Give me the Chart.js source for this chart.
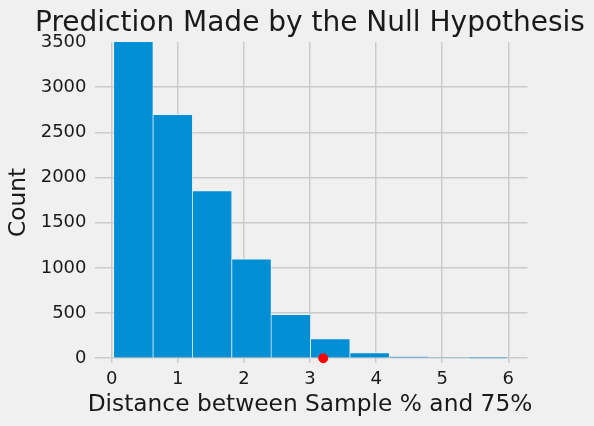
<!DOCTYPE html>
<html>
<head>
<meta charset="utf-8">
<script src="https://cdn.jsdelivr.net/npm/chart.js"></script>
<style>
  html, body { margin: 0; padding: 0; background: #f0f0f0; }
  canvas { display: block; }
</style>
</head>
<body>
<canvas id="histChart" width="594" height="426"></canvas>
<script>
// histogram bins (centres) and counts
const binCenters = [0.328, 0.924, 1.519, 2.115, 2.71, 3.306, 3.902, 4.497, 5.093, 5.688];
const counts = [3560, 2700, 1855, 1100, 485, 218, 62, 18, 4, 1];
const observedX = [3.2];
const observedY = [0];
const xTicks = [0, 1, 2, 3, 4, 5, 6];
const yTicks = [0, 500, 1000, 1500, 2000, 2500, 3000, 3500];

const font = 'DejaVu Sans';

function renderChart() {
    const ctx = document.getElementById('histChart').getContext('2d');
    new Chart(ctx, {
        type: 'bar',
        data: {
            datasets: [{
                type: 'bar',
                data: binCenters.map((x, i) => ({ x: x, y: counts[i] })),
                backgroundColor: '#008fd5',
                borderColor: '#f0f0f0',
                borderWidth: { top: 1, left: 0.7, right: 0.7, bottom: 0 },
                barPercentage: 1,
                categoryPercentage: 1,
                order: 2
            }, {
                type: 'scatter',
                data: observedX.map((x, i) => ({ x: x, y: observedY[i] })),
                backgroundColor: 'red',
                borderColor: 'red',
                pointRadius: 4.5,
                clip: false,
                order: 1
            }]
        },
        options: {
            responsive: false,
            animation: false,
            // left padding shifts the full-width titles so they sit over the plot
            layout: { padding: { top: 7, right: 0, left: 26, bottom: 0 } },
            plugins: {
                legend: { display: false },
                tooltip: { enabled: false },
                title: {
                    display: true,
                    text: 'Prediction Made by the Null Hypothesis',
                    color: '#1a1a1a',
                    font: { family: font, size: 28, weight: 'normal' },
                    padding: { top: 0, bottom: 1.4 }
                },
                // x axis label as a bottom subtitle so it is not squeezed to the axis width
                subtitle: {
                    display: true,
                    position: 'bottom',
                    text: 'Distance between Sample % and 75%',
                    color: '#1a1a1a',
                    font: { family: font, size: 23.3, weight: 'normal' },
                    padding: { top: -5.3, bottom: 7 }
                }
            },
            scales: {
                x: {
                    type: 'linear',
                    min: -0.26,
                    max: 6.29,
                    offset: false,
                    afterBuildTicks: axis => { axis.ticks = xTicks.map(v => ({ value: v })); },
                    grid: { color: '#cbcbcb', lineWidth: 1.5, drawTicks: false, offset: false },
                    border: { display: false },
                    ticks: { color: '#1a1a1a', padding: 6, font: { family: font, size: 18 }, callback: v => String(v) }
                },
                y: {
                    min: -50,
                    max: 3500,
                    afterBuildTicks: axis => { axis.ticks = yTicks.map(v => ({ value: v })); },
                    afterFit: axis => { axis.width = 68.5; },
                    grid: {
                        color: c => (c.tick && c.tick.value === 3500 ? 'rgba(0,0,0,0)' : '#cbcbcb'),
                        lineWidth: 1.5,
                        drawTicks: false
                    },
                    border: { display: false },
                    ticks: { color: '#1a1a1a', padding: 8, font: { family: font, size: 18 }, callback: v => String(v) },
                    title: {
                        display: true,
                        text: 'Count',
                        color: '#1a1a1a',
                        font: { family: font, size: 23.3 },
                        padding: { top: -21, bottom: 0 }
                    }
                },
                // empty right-hand box, keeps the blank margin right of the plot
                spacer: {
                    position: 'right',
                    afterFit: axis => { axis.width = 66.5; },
                    grid: { display: false },
                    border: { display: false },
                    ticks: { display: false }
                }
            }
        }
    });
}

renderChart();
</script>
</body>
</html>
